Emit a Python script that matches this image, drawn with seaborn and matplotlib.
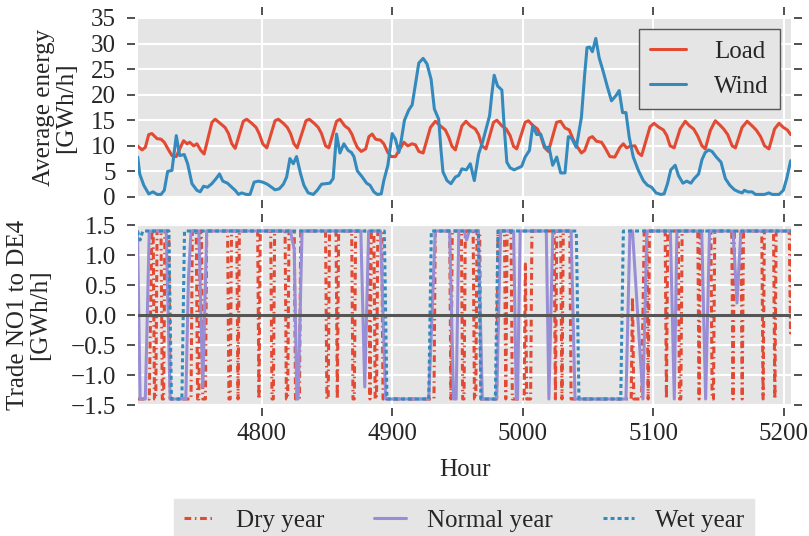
import matplotlib
matplotlib.use("Agg")
import matplotlib.pyplot as plt
import seaborn as sns

# Hourly average load and wind (GWh/h), read at the line vertices
load_hours = [4705, 4708.5, 4711, 4713.6, 4716, 4720, 4723, 4725.5, 4729, 4731.4, 4734.7, 4737.3,
              4740.3, 4743, 4745, 4748, 4750.5, 4753.5, 4756, 4762, 4764.5, 4768.3, 4772, 4774.7,
              4777.2, 4779.8, 4786, 4788.6, 4792.5, 4795.8, 4798.3, 4800.9, 4804, 4810.3, 4812.8, 4816.7,
              4819.7, 4822.2, 4824.8, 4827.3, 4834, 4836.5, 4840.3, 4843.4, 4845.9, 4849, 4851.5, 4857.4,
              4860, 4863.7, 4866.8, 4869.3, 4871, 4873.3, 4876.3, 4879.7, 4882.2, 4884.7, 4887.3, 4891.1,
              4893.6, 4896.7, 4899.2, 4902.5, 4905.9, 4908.9, 4912, 4915.3, 4917.8, 4920.4, 4923.7, 4929.3,
              4933.1, 4936.9, 4940.7, 4943.3, 4945.8, 4948.4, 4953.4, 4956.5, 4959.8, 4963.6, 4966.2, 4968.7,
              4971.8, 4977.6, 4980.2, 4984, 4987.3, 4990.3, 4992.9, 4995.4, 5001.8, 5004.3, 5008.1, 5011.2,
              5013.7, 5016.5, 5019.6, 5023.4, 5025.9, 5029, 5032.3, 5035.6, 5038.5, 5041.5, 5044.9, 5047.4,
              5050.8, 5053.3, 5056.4, 5060.3, 5062.8, 5066.7, 5070.5, 5074.4, 5077, 5079.5, 5082.1, 5085.9,
              5088.5, 5091, 5097.4, 5100.5, 5103.8, 5107.7, 5110.3, 5112.8, 5115.9, 5120.5, 5124.4, 5127.7,
              5130.8, 5133.8, 5137.2, 5139.7, 5143.6, 5147.4, 5150.8, 5153.8, 5156.9, 5160.3, 5162.8, 5167.9,
              5171.8, 5175.6, 5178.7, 5182.1, 5185.1, 5188.5, 5192.8, 5196.2, 5199.5, 5202.6, 5205.1]
load_gwh = [10.0, 9.2, 9.7, 12.2, 12.4, 11.4, 11.3, 10.7, 9.1, 8.1, 7.9, 9.4,
            11.0, 10.4, 10.7, 10.0, 10.4, 9.1, 8.4, 14.6, 15.2, 14.4, 13.6, 12.4,
            10.4, 9.5, 14.8, 15.2, 14.4, 13.6, 12.3, 10.4, 9.6, 14.9, 15.2, 14.4,
            13.6, 12.4, 10.4, 9.6, 14.9, 15.2, 14.4, 13.6, 12.4, 10.0, 9.6, 14.8,
            15.2, 13.9, 13.3, 12.2, 11.0, 9.7, 8.9, 9.4, 11.8, 12.3, 11.3, 11.1,
            10.4, 8.7, 7.9, 7.9, 9.4, 10.7, 10.0, 10.4, 10.2, 8.9, 8.6, 13.6,
            14.8, 13.9, 13.1, 11.7, 9.9, 9.2, 13.9, 14.8, 13.9, 13.3, 12.2, 10.0,
            9.4, 14.6, 15.0, 13.9, 13.3, 12.0, 9.9, 9.4, 14.6, 14.9, 13.9, 13.3,
            12.0, 9.7, 8.9, 12.3, 14.6, 14.8, 13.5, 13.1, 11.3, 9.9, 8.6, 9.1,
            11.5, 11.8, 10.9, 10.7, 9.7, 7.9, 7.8, 9.7, 10.4, 9.6, 9.9, 10.0,
            8.6, 8.1, 13.7, 14.4, 13.7, 13.1, 12.0, 10.0, 9.6, 13.3, 14.8, 13.9,
            13.3, 12.0, 10.0, 9.4, 13.0, 14.9, 14.1, 13.3, 12.2, 10.0, 9.6, 13.6,
            14.8, 13.9, 13.1, 11.8, 10.0, 9.4, 13.3, 14.4, 13.6, 13.1, 12.2]

wind_hours = [4705.2, 4706.7, 4709.8, 4713.6, 4716.9, 4720, 4723, 4725.5, 4728.1, 4731.4, 4734.7, 4737.3,
              4740.8, 4743.4, 4746.7, 4750.5, 4753, 4755.6, 4758.6, 4761.9, 4765.2, 4767.8, 4770.3, 4773.9,
              4777.2, 4779.8, 4782.3, 4784.8, 4788.2, 4791.2, 4794.3, 4797.6, 4800.9, 4804.4, 4807.7, 4810.3,
              4813.6, 4816.7, 4819.2, 4821.7, 4824.3, 4826.8, 4829.9, 4832.4, 4835.7, 4839.6, 4842.6, 4845.9,
              4849.2, 4852.3, 4854.8, 4857.4, 4860, 4863, 4866.3, 4868.8, 4870.7, 4873.3, 4877.1, 4880.4,
              4883, 4886, 4888.6, 4891.6, 4893.6, 4896.7, 4900, 4902.5, 4905.1, 4906.9, 4909.4, 4912.7,
              4915.3, 4917.8, 4920.4, 4923.7, 4926.7, 4929.8, 4932.3, 4935.6, 4937.4, 4938.9, 4942, 4945,
              4948.4, 4950.9, 4953.4, 4956.8, 4959.8, 4962.9, 4966.2, 4969.5, 4972.5, 4974.6, 4976.3, 4978.1,
              4980.7, 4984, 4985.8, 4987.8, 4990.3, 4993.4, 4996.7, 4999.2, 5001.8, 5005.1, 5007.6, 5010.7,
              5013.7, 5017.1, 5020.1, 5022.9, 5026, 5029, 5032.3, 5034.9, 5037.4, 5041, 5044.9, 5047.4,
              5049.2, 5051.3, 5053.3, 5055.9, 5058.5, 5061.5, 5064.6, 5067.9, 5071.3, 5073.8, 5076.4, 5079,
              5081.5, 5084.6, 5088.5, 5092.3, 5095.4, 5098.7, 5102, 5105.6, 5108.2, 5110.8, 5113.3, 5116.7,
              5119.2, 5122.6, 5125.6, 5128.7, 5131.3, 5134.6, 5137.2, 5139.7, 5142.3, 5144.9, 5148.2, 5151.8,
              5155.1, 5158.5, 5162.1, 5165.4, 5168, 5169.7, 5172.3, 5175.6, 5178.2, 5181.5, 5185.1, 5188.5,
              5191, 5196.2, 5199.5, 5202.1, 5205.1]
wind_gwh = [7.8, 4.5, 2.3, 0.6, 1.0, 0.5, 0.5, 1.3, 5.0, 5.2, 12.0, 8.1,
            8.3, 6.5, 2.6, 1.3, 1.0, 2.1, 1.9, 2.6, 3.6, 4.5, 3.1, 2.7,
            1.9, 1.3, 0.5, 0.8, 0.5, 0.5, 2.9, 3.1, 2.9, 2.5, 1.9, 1.4,
            1.6, 2.5, 3.9, 7.5, 6.5, 7.9, 4.5, 2.3, 0.8, 0.5, 1.3, 2.5,
            2.6, 2.7, 3.6, 12.3, 8.6, 10.4, 9.1, 8.7, 7.9, 5.1, 3.9, 2.7,
            2.3, 1.0, 0.5, 0.6, 3.2, 6.2, 12.4, 11.3, 8.7, 11.0, 15.0, 17.0,
            18.0, 22.0, 26.2, 27.1, 26.0, 23.0, 17.2, 15.2, 9.1, 4.9, 3.2, 2.6,
            3.9, 4.2, 5.5, 5.3, 6.5, 3.2, 8.4, 11.0, 13.9, 15.9, 20.1, 23.8,
            21.7, 20.9, 13.6, 6.8, 5.7, 5.3, 5.7, 6.0, 7.8, 9.1, 13.9, 12.2,
            12.3, 9.7, 9.7, 6.2, 7.8, 4.7, 4.7, 11.8, 11.5, 9.7, 15.6, 24.0,
            29.2, 29.3, 28.4, 31.0, 27.2, 24.6, 21.7, 18.8, 19.8, 20.8, 16.5, 16.5,
            11.7, 7.8, 5.2, 3.2, 2.3, 1.9, 0.8, 0.5, 0.6, 2.6, 5.3, 6.2,
            4.2, 2.7, 3.1, 2.7, 3.6, 4.5, 7.3, 8.7, 9.2, 8.9, 7.8, 6.8,
            3.6, 2.3, 1.4, 1.0, 0.8, 1.3, 1.0, 1.0, 0.5, 0.5, 0.5, 0.8,
            0.5, 0.5, 1.3, 3.6, 7.1]

# Trade NO1 -> DE4 (GWh/h), breakpoints of each scenario
dry_hours = [4705, 4714, 4716, 4717, 4718, 4719, 4720, 4723, 4724, 4725, 4726, 4729,
             4730, 4746, 4747, 4750, 4751, 4752, 4753, 4754, 4755, 4757, 4758, 4774,
             4775, 4776, 4777, 4781, 4782, 4783, 4797, 4798, 4799, 4807, 4808, 4809,
             4810, 4818, 4819, 4820, 4821, 4825, 4826, 4829, 4830, 4849, 4850, 4851,
             4852, 4857, 4858, 4859, 4869, 4870, 4871, 4872, 4882, 4883, 4884, 4886,
             4887, 4888, 4889, 4892, 4893, 4932, 4933, 4944, 4945, 4946, 4953, 4954,
             4955, 4956, 4962, 4963, 4964, 4965, 4967, 4968, 4980, 4981, 4986, 4987,
             4988, 4991, 4992, 5001, 5002, 5003, 5006, 5007, 5024, 5025, 5026, 5029,
             5030, 5031, 5036, 5037, 5083, 5084, 5085, 5091, 5093, 5095, 5096, 5097,
             5109, 5110, 5111, 5119, 5120, 5121, 5122, 5134, 5135, 5136, 5144, 5145,
             5146, 5147, 5160, 5161, 5162, 5167, 5168, 5169, 5183, 5184, 5185, 5192,
             5193, 5194, 5204, 5205, 5206]
dry_trade = [-1.4, -1.4, 1.4, 1.4, -1.4, -1.4, 1.4, 1.4, -1.4, -1.4, 1.4, 1.4,
             -1.4, -1.4, 1.4, 1.4, -1.4, -1.4, 1.4, 1.4, -1.4, -1.4, 1.4, 1.4,
             -1.4, -1.4, 1.4, 1.4, -1.4, 1.4, 1.4, -1.4, 1.4, 1.4, -1.4, -1.4,
             1.4, 1.4, -1.4, -1.4, 1.4, 1.4, -1.4, -1.4, 1.4, 1.4, -1.4, -1.4,
             1.4, 1.4, -1.4, 1.4, 1.4, -1.4, -1.4, 1.4, 1.4, -1.4, 1.4, 1.4,
             -1.4, -1.4, 1.4, 1.4, -1.4, -1.4, 1.4, 1.4, -1.4, 1.4, 1.4, -1.4,
             -1.4, 1.4, 1.4, -1.4, -1.4, 1.4, 1.4, -1.4, -1.4, 1.4, 1.4, -1.4,
             1.4, 1.4, -1.4, -1.4, 0.85, -1.4, -1.4, 1.4, 1.4, -1.4, 1.4, 1.4,
             -1.4, 1.4, 1.4, -1.4, -1.4, 0.3, -1.4, -1.4, 1.4, 1.4, -1.4, 1.4,
             1.4, -1.4, 1.4, 1.4, -1.4, -1.4, 1.4, 1.4, -1.4, 1.4, 1.4, -1.4,
             -1.4, 1.4, 1.4, -1.4, 1.4, 1.4, -1.4, 1.4, 1.4, -1.4, 1.4, 1.4,
             -1.4, 1.4, 1.4, -0.3, 1.4]

normal_hours = [4705, 4707, 4711, 4714, 4727, 4730, 4742, 4744, 4746, 4752, 4755, 4758,
                4822, 4825, 4827, 4828, 4831, 4876, 4879, 4882, 4891, 4895, 4928, 4933,
                4944, 4947, 4949, 4951, 4955, 4957, 4959, 4966, 4969, 4980, 4983, 4993,
                4995, 4996, 4998, 5018, 5020, 5023, 5037, 5040, 5079, 5082, 5084, 5092,
                5095, 5113, 5116, 5118, 5137, 5140, 5143, 5161, 5164, 5167, 5206]
normal_trade = [1.4, -1.4, -1.4, 1.4, 1.4, -1.4, -1.4, 0.6, 1.4, 1.4, -1.2, 1.4,
                1.4, 1.1, -1.4, -1.4, 1.4, 1.4, -1.2, 1.4, 1.4, -1.4, -1.4, 1.4,
                1.4, -1.4, -1.4, 1.4, 1.4, 1.25, 1.4, 1.4, -1.4, -1.4, 1.4, 1.4,
                -1.4, -1.4, 1.4, 1.4, -1.4, 1.4, 1.4, -1.4, -1.4, 1.4, 1.4, -1.4,
                1.4, 1.4, -1.4, 1.4, 1.4, -1.4, 1.4, 1.4, 0.2, 1.4, 1.4]

wet_hours = [4705, 4707, 4709, 4729, 4731, 4739, 4741, 4894, 4896, 4928, 4930,
             4966, 4968, 4979, 4981, 5041, 5043, 5075, 5077, 5206]
wet_trade = [1.4, 1.25, 1.4, 1.4, -1.4, -1.4, 1.4, 1.4, -1.4, -1.4, 1.4,
             1.4, -1.4, -1.4, 1.4, 1.4, -1.4, -1.4, 1.4, 1.4]

red, blue, purple = "#E24A33", "#348ABD", "#988ED5"

sns.set_style("darkgrid", {"axes.facecolor": "#E5E5E5", "grid.color": "white",
                           "axes.edgecolor": "white"})
plt.rcParams["font.family"] = ["Liberation Serif", "DejaVu Serif"]
plt.rcParams["font.size"] = 18

fig, (ax1, ax2) = plt.subplots(2, 1, sharex=True, figsize=(8.09, 5.36), dpi=100)
ax1.set_position([0.1706, 0.6325, 0.8072, 0.3340])
ax2.set_position([0.1706, 0.2444, 0.8072, 0.3358])

# Top panel: load and wind
sns.lineplot(x=load_hours, y=load_gwh, ax=ax1, color=red, lw=2.2, label="Load", errorbar=None)
sns.lineplot(x=wind_hours, y=wind_gwh, ax=ax1, color=blue, lw=2.2, label="Wind", errorbar=None)
ax1.set_ylim(0, 35)
ax1.set_yticks(range(0, 36, 5))
ax1.set_ylabel("Average energy\n[GWh/h]", linespacing=1.0, labelpad=10)
ax1.legend(loc="upper right", frameon=True, fancybox=False, facecolor="#E5E5E5",
           edgecolor="#555555", framealpha=1, handlelength=1.45, handletextpad=1.1,
           borderaxespad=0.45, borderpad=0.45)

# Bottom panel: trade in the three hydro scenarios
sns.lineplot(x=dry_hours, y=dry_trade, ax=ax2, color=red, lw=2.2,
             linestyle=(0, (2.2, 1.2, 0.5, 1.2)), label="Dry year", errorbar=None)
sns.lineplot(x=normal_hours, y=normal_trade, ax=ax2, color=purple, lw=2.2,
             label="Normal year", errorbar=None)
sns.lineplot(x=wet_hours, y=wet_trade, ax=ax2, color=blue, lw=2.2,
             linestyle=(0, (1.3, 1.0)), label="Wet year", errorbar=None)
ax2.axhline(0, color="#555555", lw=2.2, zorder=5)
ax2.set_ylim(-1.5, 1.5)
ax2.set_yticks([-1.5, -1.0, -0.5, 0.0, 0.5, 1.0, 1.5])
ax2.set_ylabel("Trade NO1 to DE4\n[GWh/h]", linespacing=1.0, labelpad=14)
ax2.set_xlabel("Hour", labelpad=10)
ax2.set_xlim(4705.4, 5205.4)
ax2.set_xticks([4800, 4900, 5000, 5100, 5200])

handles, labels = ax2.get_legend_handles_labels()
if ax2.get_legend() is not None:
    ax2.get_legend().remove()
fig.legend(handles, labels, loc="upper center", bbox_to_anchor=(0.5735, 0.069), ncol=3,
           borderaxespad=0, frameon=True, fancybox=False, facecolor="#E5E5E5",
           edgecolor="#E5E5E5", framealpha=1, handlelength=1.25, handletextpad=0.85,
           columnspacing=2.0)

for ax in (ax1, ax2):
    ax.grid(True, color="white", lw=1.5)
    ax.set_axisbelow(True)
    for side in ["top", "bottom", "left", "right"]:
        ax.spines[side].set_visible(False)
        ax.spines[side].set_position(("outward", 2))
    ax.tick_params(axis="both", which="major", direction="out", length=6, width=1.1,
                   color="#222222", top=True, right=True, bottom=True, left=True,
                   labelsize=18)
    ax.tick_params(axis="y", pad=8)
    ax.tick_params(axis="x", pad=5)
ax1.tick_params(axis="x", labelbottom=False)

fig.savefig("out.png", dpi=100)
